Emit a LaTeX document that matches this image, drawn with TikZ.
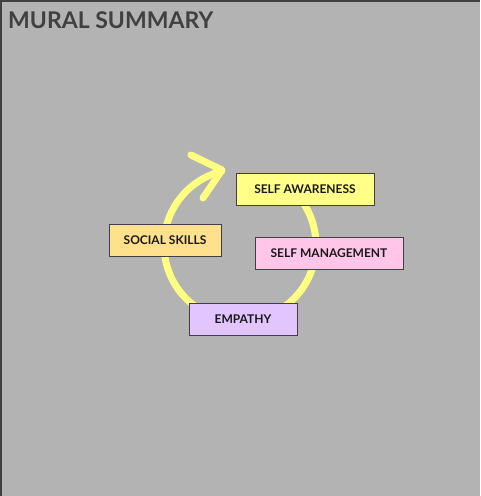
\documentclass[tikz,border=0pt]{standalone}
\usepackage{fontspec}
\setmainfont{Lato}
\begin{document}
\begin{tikzpicture}[x=1pt,y=-1pt,
  card/.style={draw=black!75,line width=1pt,minimum height=32pt,inner sep=0pt,
    font=\fontsize{12}{14}\selectfont\bfseries,text=black!90},
  loop/.style={draw=cycleyellow,line width=7pt,line cap=round,line join=round}]
\definecolor{bg}{HTML}{B3B3B3}
\definecolor{cycleyellow}{HTML}{FFFF80}
\definecolor{sa}{HTML}{FFFF88}
\definecolor{ss}{HTML}{FFE08C}
\definecolor{sm}{HTML}{FFC6EA}
\definecolor{em}{HTML}{E2C4FF}
\fill[bg] (0,0) rectangle (480,496);
\useasboundingbox (0,0) rectangle (480,496);
\draw[black!75,line width=1.5pt] (0.75,496) -- (0.75,0.75) -- (480,0.75);
\node[anchor=west,inner sep=0pt,font=\fontsize{23}{27}\selectfont\bfseries,text=black!75] (title) at (8,20) {MURAL SUMMARY};
% cycle
\coordinate (c) at (240,245);
\draw[loop] (c) ++(50:76 and -76) arc[start angle=50,end angle=-256,x radius=76,y radius=-76];
\coordinate (tip) at (222,170);
\coordinate (armA) at (191,155);
\coordinate (armB) at (203,198);
\draw[loop] (armA) -- (tip) -- (armB);
% cards
\node[card,fill=sa,minimum width=138pt] (aware) at (305,189) {SELF AWARENESS};
\node[card,fill=ss,minimum width=112pt] (social) at (165,240) {SOCIAL SKILLS};
\node[card,fill=sm,minimum width=148pt] (manage) at (329,253) {SELF MANAGEMENT};
\node[card,fill=em,minimum width=108pt] (empathy) at (243,319) {EMPATHY};
\end{tikzpicture}
\end{document}
